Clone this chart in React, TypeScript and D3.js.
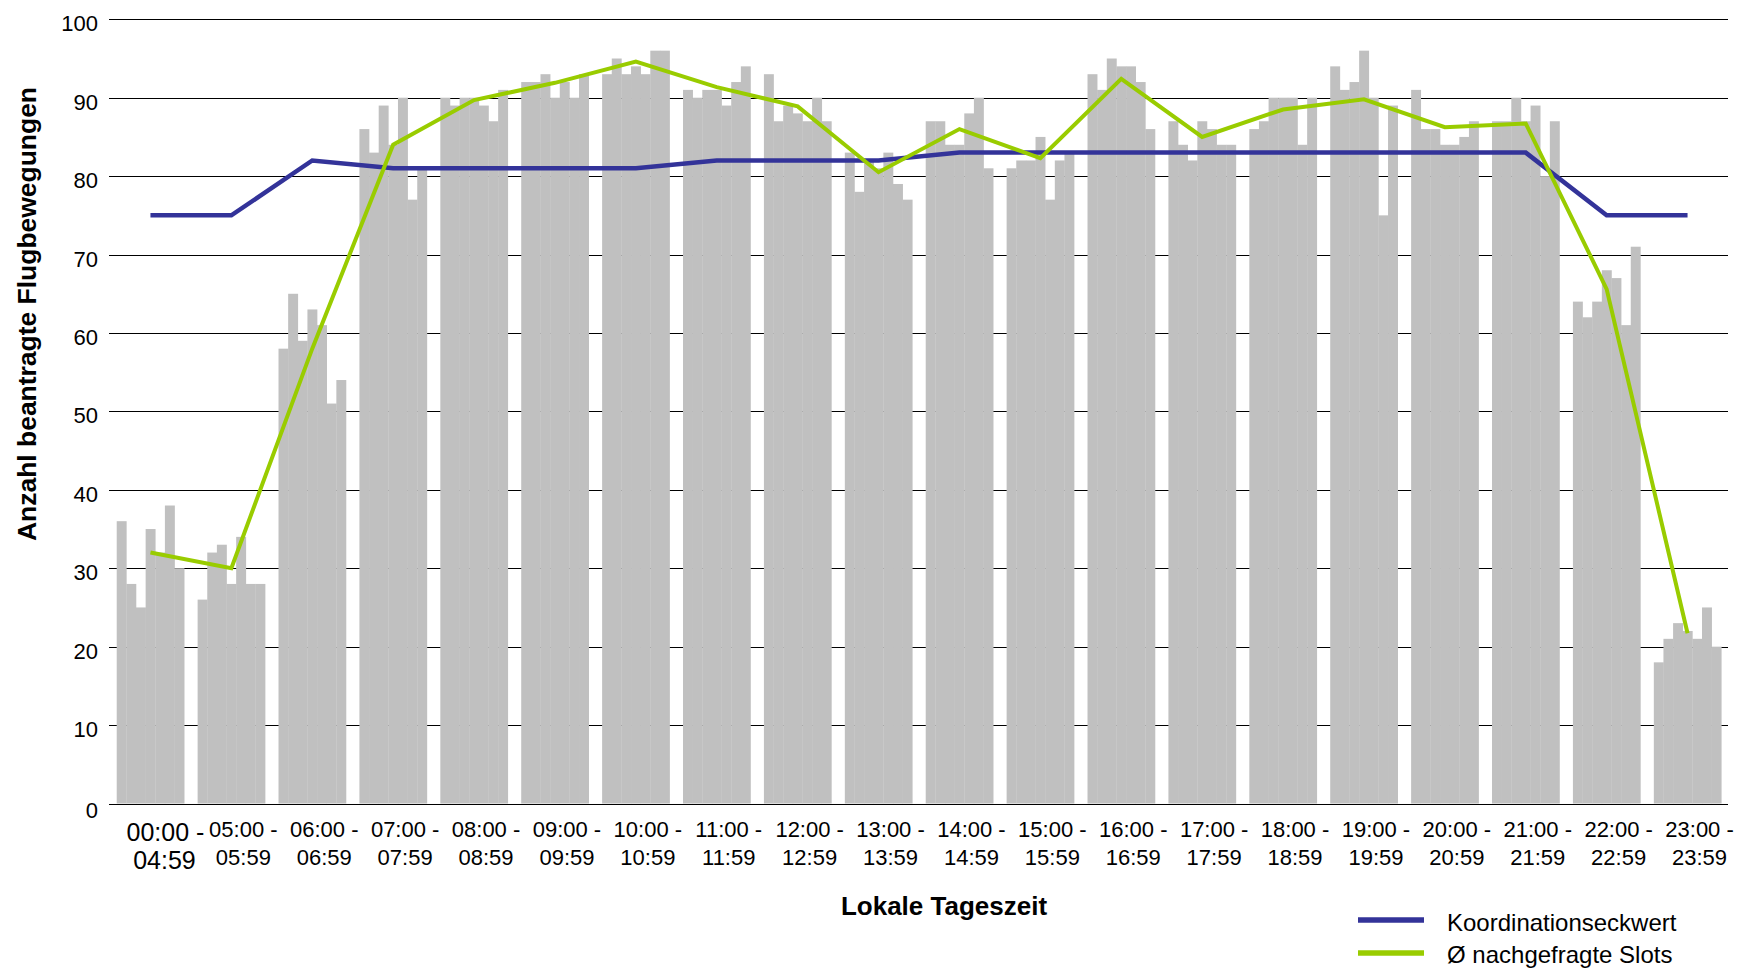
import React from 'react';
import * as d3 from 'd3';

// Category labels (local time of day)
const slotStart = ['00:00', '05:00', '06:00', '07:00', '08:00', '09:00', '10:00', '11:00', '12:00', '13:00',
  '14:00', '15:00', '16:00', '17:00', '18:00', '19:00', '20:00', '21:00', '22:00', '23:00'];
const slotEnd = ['04:59', '05:59', '06:59', '07:59', '08:59', '09:59', '10:59', '11:59', '12:59', '13:59',
  '14:59', '15:59', '16:59', '17:59', '18:59', '19:59', '20:59', '21:59', '22:59', '23:59'];

// Requested movements, one array per bar position inside each time slot
const day1 = [36, 26, 58, 86, 90, 92, 93, 91, 93, 83, 87, 81, 93, 87, 86, 94, 91, 87, 64, 18];
const day2 = [28, 32, 65, 83, 89, 92, 95, 90, 87, 78, 87, 82, 91, 84, 87, 91, 86, 87, 62, 21];
const day3 = [25, 33, 59, 89, 90, 93, 93, 91, 89, 82, 84, 82, 95, 82, 90, 92, 86, 90, 64, 23];
const day4 = [35, 28, 63, 84, 90, 90, 94, 91, 88, 81, 84, 85, 94, 87, 90, 96, 84, 87, 68, 22];
const day5 = [32, 34, 61, 90, 89, 92, 93, 89, 87, 83, 88, 77, 94, 86, 90, 90, 84, 89, 67, 21];
const day6 = [38, 28, 51, 77, 87, 90, 96, 92, 90, 79, 90, 82, 92, 84, 84, 75, 85, 80, 61, 25];
const day7 = [30, 28, 54, 81, 91, 93, 96, 94, 87, 77, 81, 83, 86, 84, 90, 89, 87, 87, 71, 20];

// Coordination parameter (blue) and average requested slots (green)
const coordLimit = [75, 75, 82, 81, 81, 81, 81, 82, 82, 82, 83, 83, 83, 83, 83, 83, 83, 83, 75, 75];
const avgDemand = [32, 30, 58, 84, 89.7, 91.9, 94.6, 91.35, 88.9, 80.5, 86, 82.3, 92.4, 85, 88.5, 89.8, 86.25, 86.7, 65.6, 21.7];

const yTicks = [0, 10, 20, 30, 40, 50, 60, 70, 80, 90, 100];

const W = 1742;
const H = 969;
const FONT = '"Liberation Sans", Arial, Helvetica, sans-serif';
const BAR = '#C0C0C0';
const BLUE = '#333399';
const GREEN = '#99CC00';

export default function App() {
  const days = [day1, day2, day3, day4, day5, day6, day7];
  const idx = slotStart.map((_, i) => i);

  const x = d3.scaleBand<number>().domain(idx).range([110, 1728]).paddingInner(0.166).paddingOuter(0.083);
  const sub = d3.scaleBand<number>().domain(days.map((_, i) => i)).range([0, x.bandwidth()]).padding(0);
  const y = d3.scaleLinear().domain([0, 100]).range([803.5, 19.3]);

  const cx = (i: number) => (x(i) as number) + x.bandwidth() / 2;
  const line = d3.line<number>().x((_, i) => cx(i)).y((d) => y(d)).curve(d3.curveLinear);

  return (
    <svg width={W} height={H} style={{ position: 'absolute', left: 0, top: 0, background: '#fff' }}
      fontFamily={FONT}>
      <rect x={0} y={0} width={W} height={H} fill="#fff" />
      {/* gridlines */}
      {yTicks.map((t) => (
        <line key={'g' + t} x1={109} x2={1728} y1={Math.round(y(t)) + 0.5} y2={Math.round(y(t)) + 0.5}
          stroke="#000" strokeWidth={1} />
      ))}
      {/* y tick labels */}
      {yTicks.map((t) => (
        <text key={'t' + t} x={98} y={y(t) + (t === 0 ? 14 : 12)} textAnchor="end" fontSize={22} fill="#000">{t}</text>
      ))}
      {/* bars */}
      {idx.map((i) => (
        <g key={'b' + i}>
          {days.map((d, k) => (
            <rect key={k} x={(x(i) as number) + (sub(k) as number)} y={y(d[i])}
              width={sub.bandwidth() + 0.3} height={y(0) - y(d[i])} fill={BAR} />
          ))}
        </g>
      ))}
      {/* lines */}
      <path d={line(coordLimit) || ''} fill="none" stroke={BLUE} strokeWidth={4.5} strokeLinejoin="miter" />
      <path d={line(avgDemand) || ''} fill="none" stroke={GREEN} strokeWidth={4} strokeLinejoin="miter" />
      {/* x tick labels */}
      {idx.map((i) => (
        <g key={'x' + i}>
          <text x={cx(i) + (i === 0 ? 15 : 12)} y={i === 0 ? 841 : 837} textAnchor="middle"
            fontSize={i === 0 ? 25 : 22} fill="#000">{slotStart[i] + ' -'}</text>
          <text x={cx(i) + (i === 0 ? 14 : 12)} y={i === 0 ? 869 : 865} textAnchor="middle"
            fontSize={i === 0 ? 25 : 22} fill="#000">{slotEnd[i]}</text>
        </g>
      ))}
      {/* axis titles */}
      <text x={944} y={915} textAnchor="middle" fontSize={26} fontWeight="bold" fill="#000">Lokale Tageszeit</text>
      <text transform="translate(36,314) rotate(-90)" textAnchor="middle" fontSize={26} fontWeight="bold" fill="#000"
        textLength={454} lengthAdjust="spacingAndGlyphs">Anzahl beantragte Flugbewegungen</text>
      {/* legend */}
      <line x1={1358} x2={1424} y1={920} y2={920} stroke={BLUE} strokeWidth={5.5} />
      <text x={1447} y={931} fontSize={24} fill="#000">Koordinationseckwert</text>
      <line x1={1358} x2={1424} y1={953} y2={953} stroke={GREEN} strokeWidth={5.5} />
      <text x={1447} y={963} fontSize={24} fill="#000">Ø nachgefragte Slots</text>
    </svg>
  );
}
